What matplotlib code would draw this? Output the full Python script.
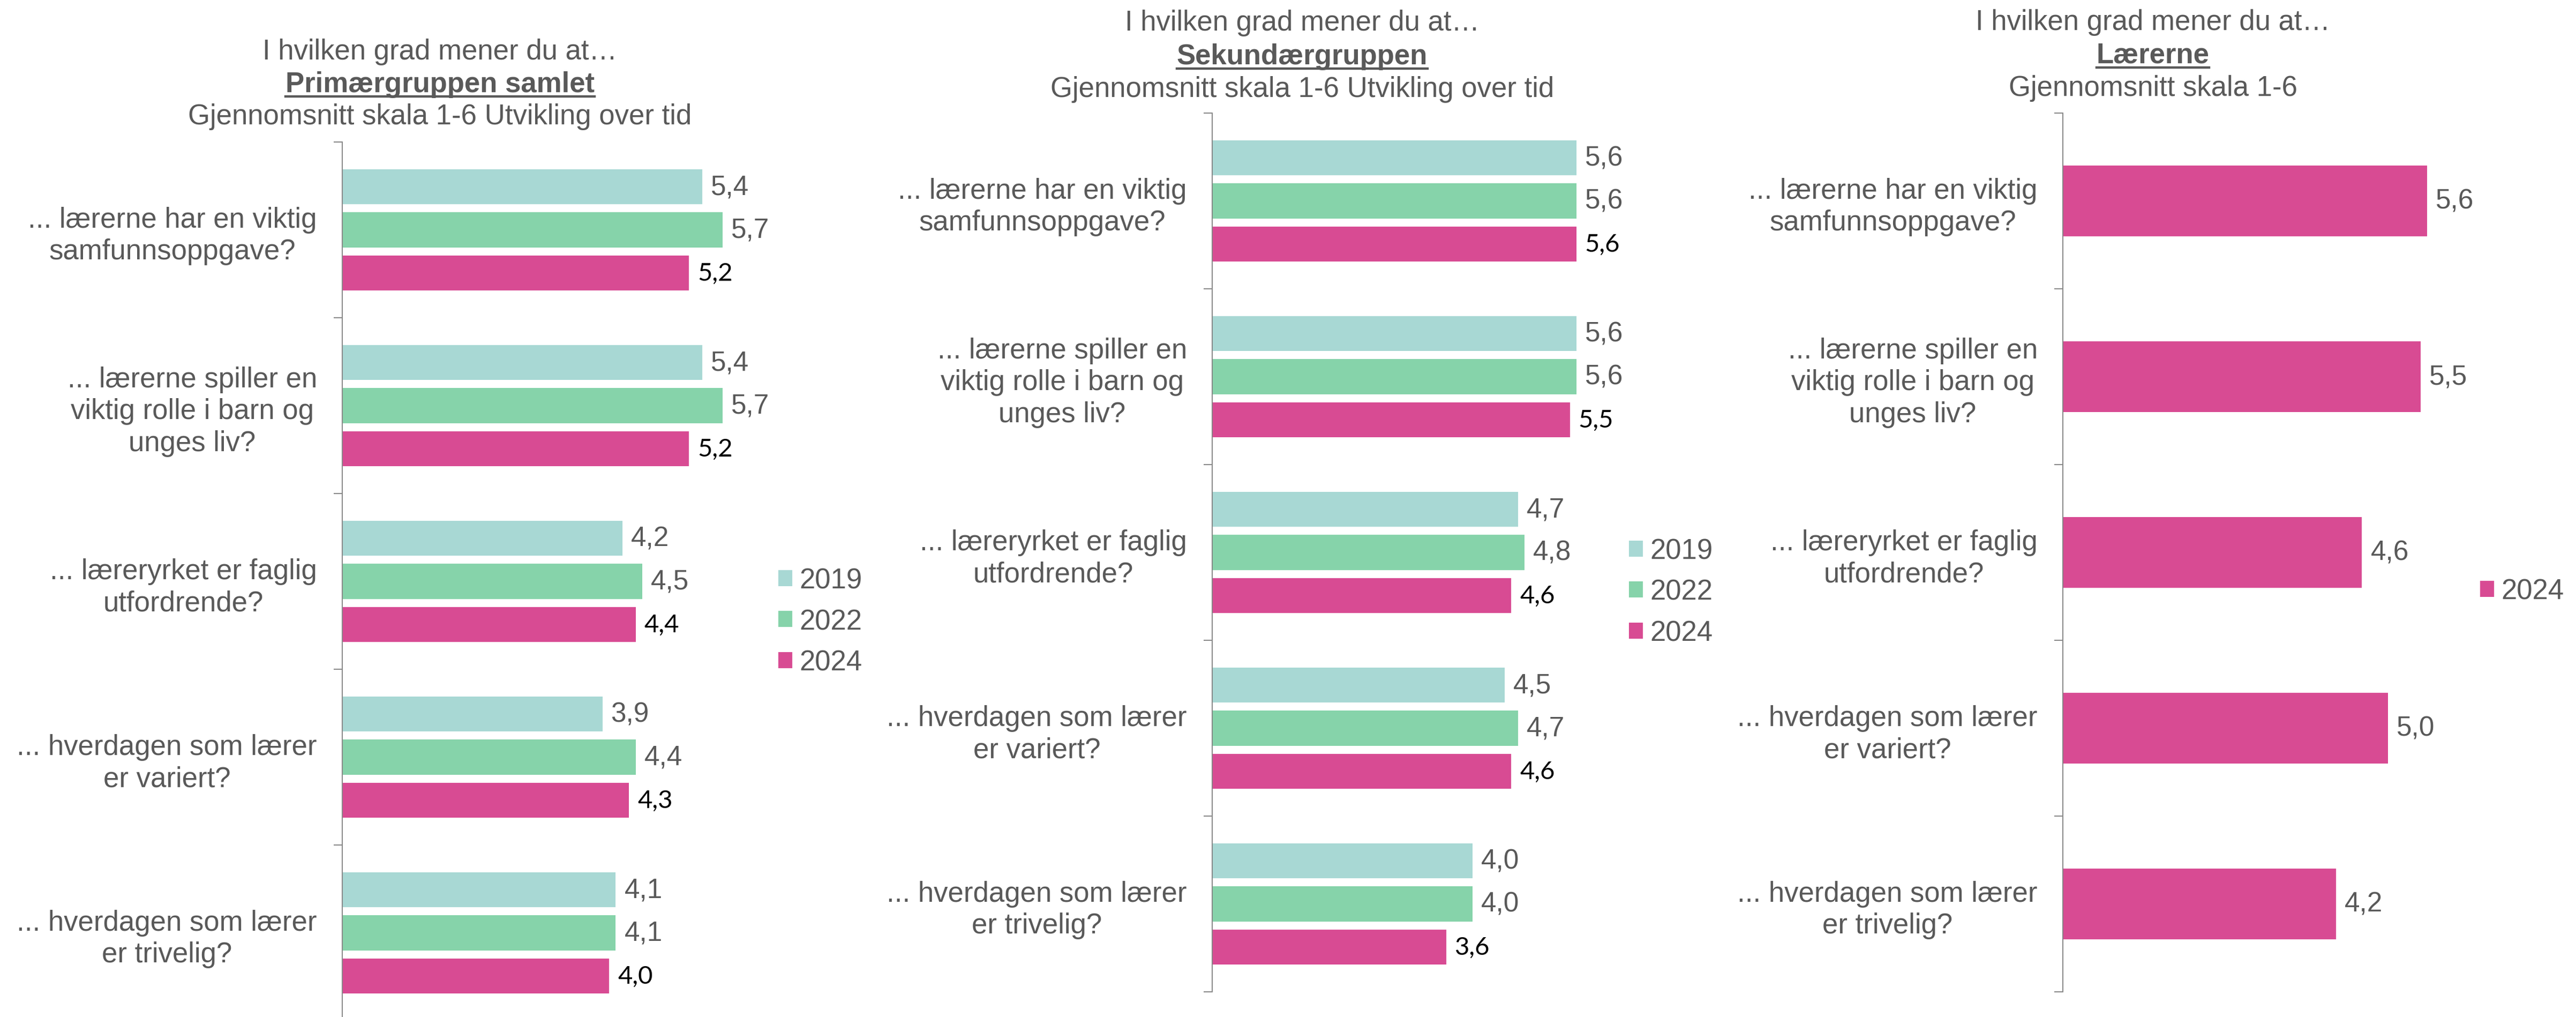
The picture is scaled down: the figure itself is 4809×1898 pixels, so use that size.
import matplotlib
matplotlib.use("Agg")
import matplotlib.pyplot as plt
import numpy as np
from matplotlib.patches import Patch
from matplotlib.lines import Line2D

W, H = 4809, 1899
DPI = 100

categories = [
    "... lærerne har en viktig\nsamfunnsoppgave?",
    "... lærerne spiller en\nviktig rolle i barn og\nunges liv?",
    "... læreryrket er faglig\nutfordrende?",
    "... hverdagen som lærer\ner variert?",
    "... hverdagen som lærer\ner trivelig?",
]
years = ["2019", "2022", "2024"]

# Primærgruppen samlet
prim_2019 = [5.4, 5.4, 4.2, 3.9, 4.1]
prim_2022 = [5.7, 5.7, 4.5, 4.4, 4.1]
prim_2024 = [5.2, 5.2, 4.4, 4.3, 4.0]

# Sekundærgruppen
sek_2019 = [5.6, 5.6, 4.7, 4.5, 4.0]
sek_2022 = [5.6, 5.6, 4.8, 4.7, 4.0]
sek_2024 = [5.6, 5.5, 4.6, 4.6, 3.6]

# Lærerne
laer_2024 = [5.6, 5.5, 4.6, 5.0, 4.2]

titles = [
    ("I hvilken grad mener du at…", "Primærgruppen samlet", "Gjennomsnitt skala 1-6 Utvikling over tid"),
    ("I hvilken grad mener du at…", "Sekundærgruppen", "Gjennomsnitt skala 1-6 Utvikling over tid"),
    ("I hvilken grad mener du at…", "Lærerne", "Gjennomsnitt skala 1-6"),
]

COLORS = {"2019": "#A8D8D4", "2022": "#86D3AA", "2024": "#D84B93"}
GRAY = "#595959"
AXIS = "#868686"

plt.rcParams["font.family"] = ["Liberation Sans", "DejaVu Sans"]

fig = plt.figure(figsize=(W / DPI, H / DPI), dpi=DPI)


def px_axes(left, top, width, height):
    return fig.add_axes([left / W, 1 - (top + height) / H, width / W, height / H])


def fmt(v):
    return f"{v:.1f}".replace(".", ",")


def setup(ax):
    n = len(categories)
    ax.set_xlim(0, 6)
    ax.set_ylim(n - 0.5, -0.5)
    for s in ["top", "right", "bottom"]:
        ax.spines[s].set_visible(False)
    ax.spines["left"].set_color(AXIS)
    ax.spines["left"].set_linewidth(1.4)
    ax.set_xticks([])
    ax.set_yticks(np.arange(n + 1) - 0.5)
    ax.set_yticklabels([])
    ax.set_yticks(np.arange(n), minor=True)
    ax.set_yticklabels(categories, minor=True)
    ax.tick_params(axis="y", which="major", length=11.5, width=1.4, color=AXIS)
    ax.tick_params(axis="y", which="minor", length=0, pad=34, labelsize=38, labelcolor=GRAY)
    for t in ax.get_yticklabels(minor=True):
        t.set_multialignment("center")
        t.set_linespacing(1.25)


def draw_panel(ax, series, pitch, height, black_last):
    y = np.arange(len(categories))
    k = len(series)
    for j, (year, vals) in enumerate(series):
        off = (j - (k - 1) / 2) * pitch
        bars = ax.barh(y + off, vals, height=height, color=COLORS[year])
        if black_last and year == "2024":
            ax.bar_label(bars, labels=[fmt(v) for v in vals], padding=11.5,
                         color="black", fontsize=34, fontfamily="Lato")
        else:
            ax.bar_label(bars, labels=[fmt(v) for v in vals], padding=11.5,
                         color=GRAY, fontsize=37)


ax1 = px_axes(639, 266, 6 * 124.5, 1640)
setup(ax1)
draw_panel(ax1, [("2019", prim_2019), ("2022", prim_2022), ("2024", prim_2024)], 0.245, 0.2, True)

ax2 = px_axes(2263, 212, 6 * 121.4, 1640)
setup(ax2)
draw_panel(ax2, [("2019", sek_2019), ("2022", sek_2022), ("2024", sek_2024)], 0.245, 0.2, True)

ax3 = px_axes(3851, 212, 6 * 121.4, 1640)
setup(ax3)
draw_panel(ax3, [("2024", laer_2024)], 0.0, 0.4, False)

# legends
legend_spec = [
    (years, 1453, 1161),
    (years, 3041, 1106),
    (["2024"], 4630, 1105),
]
for yrs, lx, cy in legend_spec:
    handles = [Patch(facecolor=COLORS[yy], edgecolor="none") for yy in yrs]
    fig.legend(handles, yrs, loc="center left", bbox_to_anchor=(lx / W, 1 - cy / H),
               frameon=False, fontsize=38, labelcolor=GRAY, handlelength=0.5,
               handleheight=0.5, handletextpad=0.25, labelspacing=0.5,
               borderpad=0, borderaxespad=0)

# titles
title_pos = [(821, (111, 172, 232)), (2431, (57, 120, 181)), (4019, (56, 118, 179))]
bold_texts = []
for (l1, l2, l3), (cx, (b1, b2, b3)) in zip(titles, title_pos):
    fig.text(cx / W, 1 - b1 / H, l1, ha="center", va="baseline", fontsize=38, color=GRAY)
    t = fig.text(cx / W, 1 - b2 / H, l2, ha="center", va="baseline", fontsize=38,
                 color=GRAY, fontweight="bold")
    fig.text(cx / W, 1 - b3 / H, l3, ha="center", va="baseline", fontsize=38, color=GRAY)
    bold_texts.append((t, b2))

fig.canvas.draw()
renderer = fig.canvas.get_renderer()
for t, base in bold_texts:
    bb = t.get_window_extent(renderer)
    yl = 1 - (base + 9) / H
    fig.add_artist(Line2D([bb.x0 / W, bb.x1 / W], [yl, yl], transform=fig.transFigure,
                          color=GRAY, linewidth=3.2))

fig.savefig("out.png", dpi=DPI)
